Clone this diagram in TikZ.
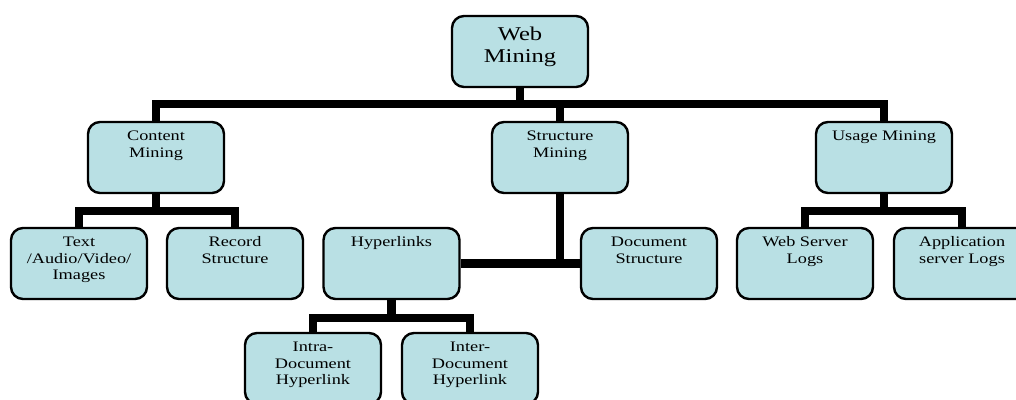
\documentclass[tikz,border=0pt]{standalone}
\usepackage{fontspec}
\setmainfont{Liberation Serif}[FakeStretch=1.26]
\usetikzlibrary{backgrounds}
\definecolor{boxfill}{RGB}{185,224,228}
\newcommand{\bt}[1]{\parbox[c][71pt][t]{136pt}{\centering\fontsize{14.5}{16.5}\selectfont\rule{0pt}{18.5pt}#1}}
\newcommand{\btbig}[1]{\parbox[c][71pt][t]{136pt}{\centering\fontsize{19.5}{22}\selectfont\rule{0pt}{24pt}#1}}
\begin{document}
\begin{tikzpicture}[x=1pt,y=-1pt,
  box/.style={draw=black,line width=2.4pt,fill=boxfill,rounded corners=12pt,inner sep=0pt,minimum width=136pt,minimum height=71pt},
  link/.style={line width=8.5pt,black,line join=miter}]
\useasboundingbox (0,0) rectangle (1016,399);
\node[box] (wm) at (520,51.5) {\btbig{Web\\Mining}};
\node[box] (cm) at (156,157.5) {\bt{Content\\Mining}};
\node[box] (sm) at (560,157.5) {\bt{Structure\\Mining}};
\node[box] (um) at (884,157.5) {\bt{Usage Mining}};
\node[box] (tx) at (79,263.5) {\bt{Text\\/Audio/Video/\\Images}};
\node[box] (rs) at (235,263.5) {\bt{Record\\Structure}};
\node[box] (hl) at (391.5,263.5) {\bt{Hyperlinks}};
\node[box] (ds) at (649,263.5) {\bt{Document\\Structure}};
\node[box] (ws) at (805,263.5) {\bt{Web Server\\Logs}};
\node[box] (as) at (962,263.5) {\bt{Application\\server Logs}};
\node[box] (ia) at (313,368.5) {\bt{Intra-\\Document\\Hyperlink}};
\node[box] (ie) at (470,368.5) {\bt{Inter-\\Document\\Hyperlink}};
\coordinate (b1) at (520,104);
\coordinate (b2) at (156,211);
\coordinate (b3) at (884,211);
\coordinate (b4) at (391.5,318);
\begin{scope}[on background layer]
\fill[white] (0,0) rectangle (1016,399);
\draw[link] (wm.south) -- (b1) -| (cm.north);
\draw[link] (b1) -| (sm.north);
\draw[link] (b1) -| (um.north);
\draw[link] (cm.south) -- (b2) -| (tx.north);
\draw[link] (b2) -| (rs.north);
\draw[link] (um.south) -- (b3) -| (ws.north);
\draw[link] (b3) -| (as.north);
\draw[link] (hl.east) -- (ds.west);
\draw[link] (sm.south) -- (sm.south |- hl.east);
\draw[link] (hl.south) -- (b4) -| (ia.north);
\draw[link] (b4) -| (ie.north);
\end{scope}
\end{tikzpicture}
\end{document}
